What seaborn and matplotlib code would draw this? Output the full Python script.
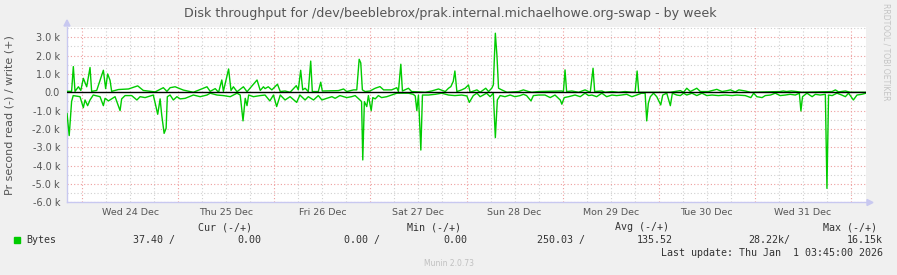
import matplotlib
matplotlib.use("Agg")
import matplotlib.pyplot as plt
import matplotlib.transforms as mtransforms
import numpy as np
import pandas as pd
import seaborn as sns

# ---------------- data (hours since Wed 24 Dec 00:00, bytes/s) ----------------
write_hours = [-3.75, -2.6, -2.17, -1.75, -0.9, -0.3, 0.33, 1.17, 2.0, 2.4, 3.67, 5.33, 5.9, 6.4, 7.0, 7.4,
               9.1, 11.6, 13.9, 15.3, 18.25, 20.3, 21.2, 22.0, 23.25, 25.3, 27.8, 31.2, 32.0, 33.25, 34.1,
               34.9, 35.3, 36.6, 37.2, 37.8, 38.7, 40.3, 41.2, 43.7, 44.5, 45.3, 45.7, 46.5, 47.4, 48.8,
               49.5, 50.7, 51.95, 53.5, 54.0, 54.6, 55.1, 55.7, 56.5, 57.1, 57.5, 59.0, 59.6, 60.0, 64.0,
               65.3, 66.1, 67.8, 68.6, 69.2, 69.6, 70.0, 70.7, 71.9, 73.2, 74.4, 75.3, 77.3, 78.6, 79.0,
               79.6, 80.0, 81.5, 82.3, 85.7, 87.3, 89.0, 90.7, 91.5, 92.1, 92.7, 93.1, 93.6, 94.8, 95.65,
               96.5, 96.9, 98.6, 99.4, 100.2, 100.8, 101.5, 102.3, 102.7, 103.2, 103.6, 104.0, 104.8,
               106.1, 109.0, 110.2, 111.5, 112.3, 114.0, 119.8, 120.2, 120.6, 121.0, 122.3, 124.0, 125.6,
               126.9, 127.6, 128.0, 129.8, 130.6, 132.3, 134.0, 135.6, 137.3, 138.1, 138.6, 139.0, 146.9,
               149.4, 150.2, 151.0, 151.9, 153.5, 154.4, 156.4, 158.5, 159.8, 161.1, 161.9, 163.1, 164.0,
               165.6, 166.9, 174.3, 175.1, 175.9, 177.1, 178.4, 179.7, 187.3, 188.1, 188.9, 190.6, 191.8,
               195.75]
write_bps = [50, 50, 1400, 50, 300, 100, 760, 300, 1350, 50, 100, 1200, 200, 1000, 650, 50,
             150, 180, 350, 100, 20, 250, 50, 250, 300, 120, 0, 300, 50, 200, 0,
             670, 50, 1270, 100, 300, 30, 300, 30, 670, 100, 300, 200, 300, 130, 440,
             40, 70, 0, 360, 130, 1200, 130, 220, 40, 1700, 40, 40, 550, 70, 90,
             180, 40, 130, 130, 1800, 1600, 130, 40, 70, 220, 310, 130, 130, 250, 40,
             1530, 70, 220, 40, 0, 70, 180, 40, 220, 310, 600, 1160, 40, 130, 220,
             400, 0, 130, 0, 130, 220, 40, 220, 400, 3220, 2000, 220, 130,
             0, 40, 130, 40, 0, 40, 70, 40, 1220, 40, 70, 0, 130,
             0, 1310, 40, 70, 0, 40, 0, 40, 0, 0, 1160, 0, 0,
             90, 0, 220, 40, 220, 40, 40, 160, 40, 90, 130, 20, 130,
             70, 0, 40, 70, 40, 70, 40, 0, 40, 130, 20, 70, 0,
             0]

read_hours = [-3.75, -3.2, -2.6, -2.2, -0.5, 0.33, 0.75, 1.4, 2.0, 2.8, 4.5, 5.33, 5.75, 6.6, 8.25,
              9.5, 9.9, 10.75, 12.4, 13.7, 14.5, 15.75, 17.8, 18.9, 19.5, 19.9, 20.5, 21.0, 21.3, 22.0,
              22.8, 23.7, 24.5, 25.75, 27.8, 29.5, 31.2, 32.0, 33.7, 35.3, 37.0, 38.7, 39.5, 40.2, 40.75,
              41.2, 41.6, 42.8, 44.5, 45.7, 46.9, 47.8, 48.6, 49.5, 50.7, 51.95, 53.6, 54.4, 55.7, 56.5,
              57.8, 59.0, 59.9, 61.1, 62.4, 63.2, 64.4, 66.1, 67.3, 68.2, 69.4, 69.8, 70.1, 70.5, 71.1,
              71.5, 72.2, 72.6, 73.2, 74.0, 74.8, 76.1, 77.3, 78.6, 81.5, 82.7, 83.2, 83.6, 84.0, 84.6,
              85.0, 86.5, 88.2, 89.8, 91.5, 93.1, 94.8, 96.1, 96.7, 97.7, 98.6, 99.4, 100.2, 101.0,
              101.9, 102.7, 103.2, 103.7, 104.4, 105.6, 106.9, 108.1, 109.4, 110.2, 111.0, 112.1, 112.7,
              114.0, 115.6, 116.9, 118.1, 119.4, 119.8, 120.4, 121.5, 123.1, 124.4, 125.6, 126.5, 127.3,
              128.5, 129.8, 131.0, 132.3, 133.5, 134.7, 136.0, 137.3, 138.5, 139.7, 140.6, 141.0, 141.4,
              141.9, 142.7, 143.5, 144.5, 145.0, 146.0, 146.9, 147.4, 148.5, 149.4, 150.2, 151.0, 152.3,
              153.5, 154.8, 156.0, 157.3, 158.9, 160.6, 162.3, 163.5, 165.6, 167.0, 167.7, 168.5, 169.8,
              170.6, 171.9, 173.1, 174.3, 175.6, 176.8, 178.1, 179.1, 179.5, 179.9, 181.0, 182.3, 183.1,
              184.3, 185.6, 186.0, 186.4, 187.3, 188.5, 189.7, 190.6, 191.4, 192.6, 193.5, 194.7, 195.75]
read_bps = [1150, 2360, 500, 180, 240, 840, 420, 730, 420, 150, 240, 730, 330, 470, 240,
            1000, 360, 180, 180, 420, 240, 290, 150, 1200, 360, 1240, 2240, 1960, 240, 150,
            420, 240, 360, 330, 150, 240, 150, 50, 150, 180, 240, 50, 150, 1560, 330,
            730, 150, 240, 180, 150, 470, 150, 780, 150, 420, 240, 550, 150, 420, 240,
            420, 180, 420, 330, 240, 330, 180, 290, 240, 180, 420, 510, 3690, 510, 780,
            180, 1000, 290, 360, 180, 290, 240, 150, 50, 50, 110, 200, 1000, 150, 3150,
            150, 150, 110, 50, 150, 180, 150, 200, 550, 180, 50, 240, 150, 50,
            240, 50, 2470, 420, 180, 240, 150, 240, 180, 110, 180, 470, 180,
            150, 150, 290, 150, 420, 650, 290, 240, 150, 240, 50, 180, 150,
            240, 50, 240, 150, 180, 150, 110, 240, 150, 50, 50, 1560, 600,
            240, 50, 240, 690, 150, 50, 730, 50, 150, 180, 50, 150, 50,
            180, 50, 180, 150, 180, 150, 180, 150, 180, 290, 50, 240, 290,
            180, 150, 50, 180, 150, 110, 150, 50, 1020, 240, 50, 240, 110,
            150, 110, 5240, 150, 180, 50, 150, 240, 50, 420, 150, 110, 50]

day_labels = ["Wed 24 Dec", "Thu 25 Dec", "Fri 26 Dec", "Sat 27 Dec",
              "Sun 28 Dec", "Mon 29 Dec", "Tue 30 Dec", "Wed 31 Dec"]
y_ticks = [3000, 2000, 1000, 0, -1000, -2000, -3000, -4000, -5000, -6000]
y_tick_labels = ["3.0 k", "2.0 k", "1.0 k", "0.0", "-1.0 k", "-2.0 k", "-3.0 k",
                 "-4.0 k", "-5.0 k", "-6.0 k"]

legend_headers = ["Cur (-/+)", "Min (-/+)", "Avg (-/+)", "Max (-/+)"]
legend_values = ["37.40 /", "0.00", "0.00 /", "0.00", "250.03 /", "135.52", "28.22k/", "16.15k"]
series_name = "Bytes"
title = "Disk throughput for /dev/beeblebrox/prak.internal.michaelhowe.org-swap - by week"
ylabel = "Pr second read (-) / write (+)"
last_update = "Last update: Thu Jan  1 03:45:00 2026"

# ---------------- styling ----------------
sns.set_theme(style="white")
plt.rcParams["font.family"] = ["DejaVu Sans"]

W, H = 897, 275
BG = "#F0F0F0"
GREEN = "#00CC00"
MAJ = "#EE9E9E"
MIN = "#D0D0D0"
AXC = "#C8C8F0"
TXT = "#555555"

fig = plt.figure(figsize=(W / 100, H / 100), dpi=100, facecolor=BG)

def px(x, y):
    return x / W, 1 - y / H

ax_l, ax_r, ax_t, ax_b = 67, 866, 27, 202.3
ax = fig.add_axes([ax_l / W, 1 - ax_b / H, (ax_r - ax_l) / W, (ax_b - ax_t) / H])
ax.set_facecolor("white")

xmin, xmax = -3.75, 195.75
ymin, ymax = -6000, 3560

# grid
for h in np.arange(-6, 200, 6):
    if xmin < h < xmax:
        major = (h % 24 == 0)
        ax.axvline(h, color=MAJ if major else MIN, lw=0.8, ls=(0, (1, 2)), zorder=1)
for v in np.arange(-6000, 3600, 500):
    if v == 0:
        continue
    major = (v % 1000 == 0)
    ax.axhline(v, color=MAJ if major else MIN, lw=0.8, ls=(0, (1, 2)), zorder=1)

wdf = pd.DataFrame({"hours": write_hours, "bps": write_bps})
rdf = pd.DataFrame({"hours": read_hours, "bps": -np.array(read_bps, dtype=float)})
sns.lineplot(data=rdf, x="hours", y="bps", color=GREEN, lw=1.0, ax=ax, zorder=3)
sns.lineplot(data=wdf, x="hours", y="bps", color=GREEN, lw=1.0, ax=ax, zorder=3)
ax.axhline(0, color="black", lw=1.0, zorder=4)

ax.set_xlim(xmin, xmax)
ax.set_ylim(ymin, ymax)
ax.set_xlabel("")
ax.set_ylabel("")

for s in ["top", "right"]:
    ax.spines[s].set_visible(False)
for s in ["left", "bottom"]:
    ax.spines[s].set_color(AXC)
    ax.spines[s].set_linewidth(1.0)

ax.set_yticks(y_ticks, labels=y_tick_labels)
ax.tick_params(axis="y", length=2, color=MAJ, labelsize=7, labelcolor=TXT, pad=3)
midnights = list(range(0, 193, 24))
ax.set_xticks(midnights, labels=[""] * len(midnights))
ax.tick_params(axis="x", length=3, color=MAJ, direction="out")

trans = mtransforms.blended_transform_factory(ax.transData, fig.transFigure)
for i, lab in enumerate(day_labels):
    ax.text(12 + 24 * i, 1 - 212.5 / H, lab, transform=trans, ha="center", va="center",
            fontsize=6.8, color=TXT)

# axis arrows
fig.patches.append(plt.Polygon([px(64, 26), px(70, 26), px(67, 20)], closed=True,
                               transform=fig.transFigure, color=AXC))
fig.patches.append(plt.Polygon([px(867, 199.5), px(867, 205.5), px(873, 202.5)], closed=True,
                               transform=fig.transFigure, color=AXC))

# texts
fig.text(*px(450, 14), title, ha="center", va="center", fontsize=9.1, color=TXT)
fig.text(*px(10, 115), ylabel, ha="center", va="center", rotation=90, fontsize=8.0, color=TXT)
fig.text(*px(886, 52), "RRDTOOL / TOBI OETIKER", ha="center", va="center", rotation=270,
         fontsize=5.5, color="#C4C4C4")

MONO = "DejaVu Sans Mono"
LC = "#333333"
fs = 7.2
for x0, t in zip([198, 407, 615, 823], legend_headers):
    fig.text(*px(x0, 227), t, ha="left", va="center", family=MONO, fontsize=fs, color=LC)
fig.patches.append(plt.Rectangle(px(14, 243), 6 / W, 6 / H, transform=fig.transFigure,
                                 color=GREEN))
fig.text(*px(26, 240), series_name, ha="left", va="center", family=MONO, fontsize=fs, color=LC)
for x0, t in zip([133, 237, 344, 443, 537, 637, 748, 847], legend_values):
    fig.text(*px(x0, 240), t, ha="left", va="center", family=MONO, fontsize=fs, color=LC)
fig.text(*px(883, 252.5), last_update, ha="right", va="center", family=MONO, fontsize=fs, color=LC)
fig.text(*px(449, 264), "Munin 2.0.73", ha="center", va="center", fontsize=5.5, color="#C0C0C0")

fig.savefig("out.png", dpi=100, facecolor=BG)
